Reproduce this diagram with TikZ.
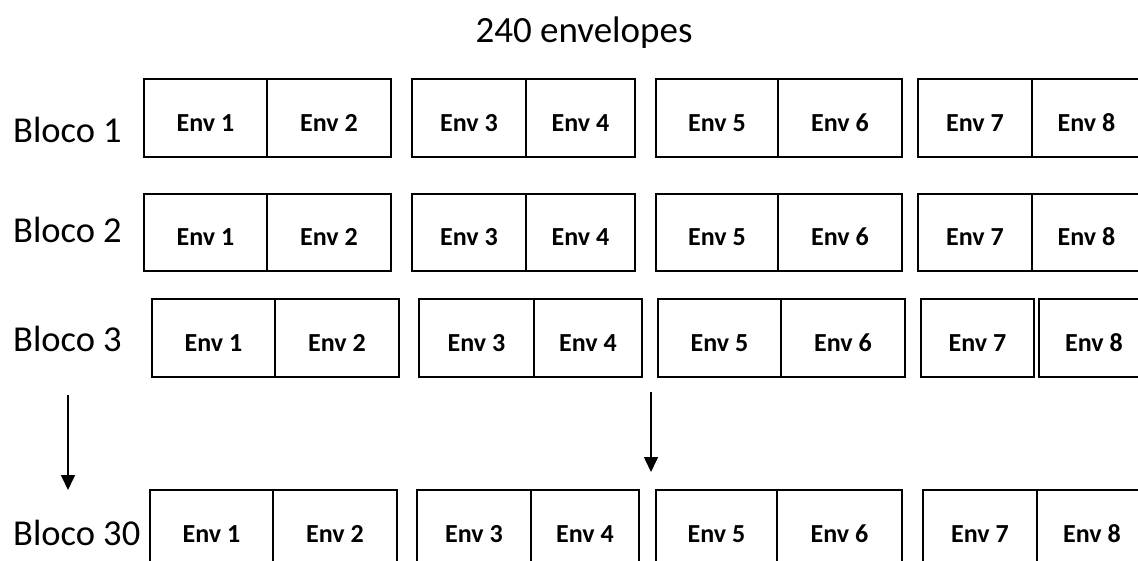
\documentclass[tikz,border=0pt]{standalone}
\usepackage{fontspec}
\setmainfont{Carlito}
\usetikzlibrary{arrows.meta}
\begin{document}
\begin{tikzpicture}[x=1pt,y=-1pt,
  cellbox/.style={draw=black,line width=1.4pt,inner sep=0pt,outer sep=0pt},
  envlab/.style={anchor=base,inner sep=0pt,font=\fontsize{26}{30}\selectfont\bfseries},
  blocolab/.style={anchor=base west,inner sep=0pt,font=\fontsize{36.5}{40}\selectfont},
  arr/.style={line width=1.6pt,-{Triangle[width=14pt,length=15pt]}}]
\useasboundingbox (0,0) rectangle (1138,561);
\clip (0,0) rectangle (1138,561);
\fill[white] (0,0) rectangle (1138,561);
% args: name, x1, x2, ytop, ybot, text, baseline
\newcommand\envcell[7]{%
  \node[cellbox,minimum width={#3-#2},minimum height={#5-#4}] (#1) at ({(#2+#3)/2},{(#4+#5)/2}) {};
  \node[envlab] (#1t) at ({(#2+#3)/2},#7) {#6};}
\node[anchor=base,inner sep=0pt,font=\fontsize{37}{40}\selectfont] (title) at (584,43) {240 envelopes};
% Row 1
\node[blocolab] (b1) at (13,143) {Bloco 1};
\envcell{a1}{144}{267}{79}{157}{Env 1}{132}
\envcell{a2}{267}{391}{79}{157}{Env 2}{132}
\envcell{a3}{412}{526}{79}{157}{Env 3}{132}
\envcell{a4}{526}{635}{79}{157}{Env 4}{132}
\envcell{a5}{656}{778}{79}{157}{Env 5}{132}
\envcell{a6}{778}{902}{79}{157}{Env 6}{132}
\envcell{a7}{918}{1032}{79}{157}{Env 7}{132}
\envcell{a8}{1032}{1141}{79}{157}{Env 8}{132}
% Row 2
\node[blocolab] (b2) at (13,243) {Bloco 2};
\envcell{b1c}{144}{267}{194}{271}{Env 1}{246}
\envcell{b2c}{267}{391}{194}{271}{Env 2}{246}
\envcell{b3c}{412}{526}{194}{271}{Env 3}{246}
\envcell{b4c}{526}{635}{194}{271}{Env 4}{246}
\envcell{b5c}{656}{778}{194}{271}{Env 5}{246}
\envcell{b6c}{778}{902}{194}{271}{Env 6}{246}
\envcell{b7c}{918}{1032}{194}{271}{Env 7}{246}
\envcell{b8c}{1032}{1141}{194}{271}{Env 8}{246}
% Row 3
\node[blocolab] (b3) at (13,352) {Bloco 3};
\envcell{c1}{152}{275}{299}{377}{Env 1}{352}
\envcell{c2}{275}{399}{299}{377}{Env 2}{352}
\envcell{c3}{419}{534}{299}{377}{Env 3}{352}
\envcell{c4}{534}{642}{299}{377}{Env 4}{352}
\envcell{c5}{658}{781}{299}{377}{Env 5}{352}
\envcell{c6}{781}{905}{299}{377}{Env 6}{352}
\envcell{c7}{921}{1034}{299}{377}{Env 7}{352}
\envcell{c8}{1039}{1149}{299}{377}{Env 8}{352}
% Row 4
\node[blocolab] (b30) at (13,545) {Bloco 30};
\envcell{d1}{150}{273}{490}{580}{Env 1}{542}
\envcell{d2}{273}{397}{490}{580}{Env 2}{542}
\envcell{d3}{417}{531}{490}{580}{Env 3}{542}
\envcell{d4}{531}{639}{490}{580}{Env 4}{542}
\envcell{d5}{656}{777}{490}{580}{Env 5}{542}
\envcell{d6}{777}{902}{490}{580}{Env 6}{542}
\envcell{d7}{923}{1037}{490}{580}{Env 7}{542}
\envcell{d8}{1037}{1147}{490}{580}{Env 8}{542}
% Arrows
\coordinate (p1s) at (68,395);
\coordinate (p1e) at (68,490);
\coordinate (p2s) at (651,392);
\coordinate (p2e) at (651,472);
\draw[arr] (p1s) -- (p1e);
\draw[arr] (p2s) -- (p2e);
\end{tikzpicture}
\end{document}
